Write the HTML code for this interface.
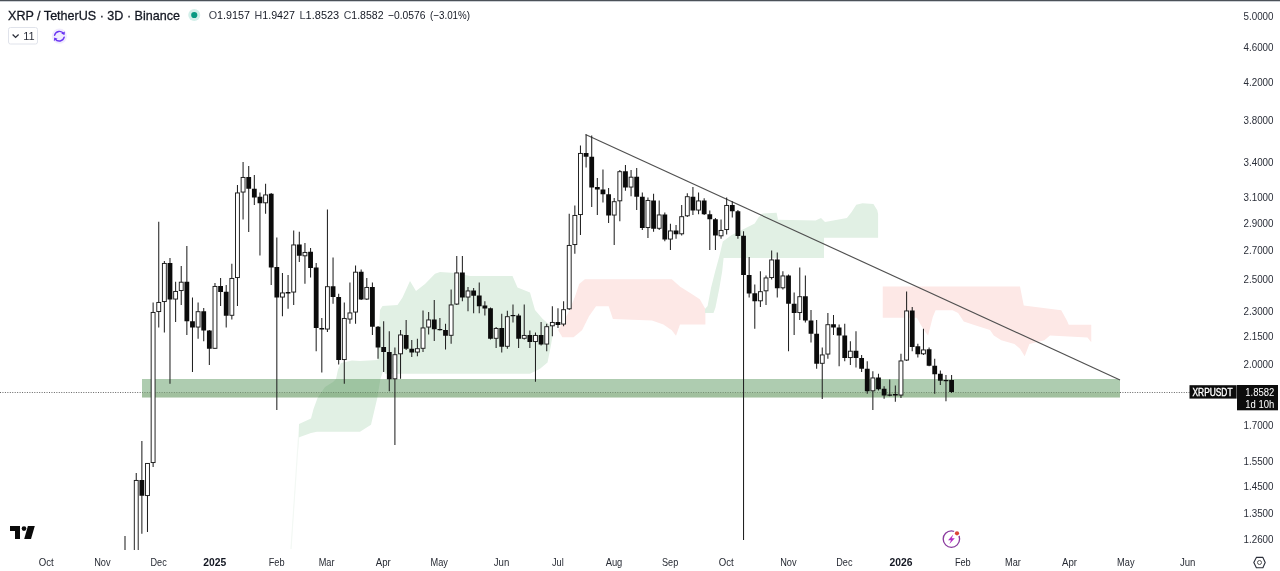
<!DOCTYPE html>
<html lang="en"><head><meta charset="utf-8"><title>XRP / TetherUS 3D Binance</title>
<style>
html,body{margin:0;padding:0;background:#fff;}
body{width:1280px;height:571px;overflow:hidden;position:relative;font-family:"Liberation Sans",sans-serif;}
svg{position:absolute;left:0;top:0;display:block;will-change:transform;}
text{font-family:"Liberation Sans",sans-serif;}
.ax{font-size:10px;fill:#2a2e39;}
.tm{font-size:10.5px;fill:#262a33;}
.tmb{font-size:10.5px;fill:#131722;font-weight:bold;}
</style></head><body>
<svg width="1280" height="571" viewBox="0 0 1280 571">
<rect x="0" y="0" width="1280" height="571" fill="#ffffff"/>
<polygon points="298,450 299,424 311,418.5 313.5,409 317.5,398 325,387 333,382 336,379 338,369.5 341,363 352,360.5 360,361 377.5,360 380,310 382.5,306 397.5,305 402.5,297.5 410,281 416,291 425,284 435,273.75 440,272 455,273 470,276 512.5,276 517.5,287.5 530,292.5 535,310 542.5,318.75 551,326 553,333 551,345 547.5,362.5 540,368.75 530,373.75 385,373.75 383.6,369.5 380.4,379 377.3,398 374,412 371,424.7 360,431.8 317,431.8 311,433 299.2,437.3" fill="#e1f0e4"/>
<path d="M298.5 437 L291 549" stroke="#f3f8f4" stroke-width="1.2" fill="none"/>
<polygon points="558.2,330.2 568,313.4 575,296.5 579.2,283.9 584.9,279.2 671.8,279.2 680.2,286.7 691.4,293.7 699.8,299.3 705.4,309.1 705.4,324.6 680,324.6 676,335.8 671.8,330.2 663.4,324.6 652,320.4 612.9,319 608.7,306.3 596,306.3 589,316.2 582,330.2 573.6,337.2 562.4,337.2" fill="#fde8e6"/>
<polygon points="705,309 707.6,306 711,288 715.2,271.3 719.4,256 722.8,241.6 731.25,235.3 746.9,227.5 754.7,223.6 758.6,217.3 762.5,213.4 776.6,212.7 778,219.7 815.6,220.5 821,218.1 825,222 846.9,218.1 851.6,211.9 856.25,204.8 862.5,203.3 873.4,204 877.3,210.3 878.1,214 878.1,237.7 824,237.7 824,258 723.6,258 722.2,271.3 719.4,288 715.4,307.7 713.5,313 705,313" fill="#e1f0e4"/>
<polygon points="882.75,286.5 1020,286.5 1023.75,305.6 1061.25,310.3 1066.9,320.6 1068.75,324.75 1091.25,324.75 1091.25,342.2 1087.5,337.5 1068.75,336.6 1050,335.6 1044.4,340.3 1029.4,344 1024.7,356.25 1020,348.75 1014.4,344 1001.25,340.3 993.75,335.6 990,330 975,325.3 963.75,321.6 958.1,313.1 952.5,310.3 935.6,310.3 932.8,316.9 928.1,335.6 925.3,331.9 920.6,324.4 916.9,317.8 882.75,317.8" fill="#fde8e6"/>
<rect x="142" y="379" width="978" height="18.5" fill="#4f8f52" fill-opacity="0.46"/>
<rect x="142" y="392.5" width="978" height="5" fill="#5a7f3a" fill-opacity="0.15"/>
<line x1="0" y1="392.5" x2="142" y2="392.5" stroke="#4a4a4a" stroke-width="1" stroke-dasharray="1 1.45" stroke-opacity="0.85"/>
<line x1="142" y1="392.5" x2="1120" y2="392.5" stroke="#33452f" stroke-width="1" stroke-dasharray="1 1.45" stroke-opacity="0.42"/>
<line x1="1120" y1="392.5" x2="1190" y2="392.5" stroke="#4a4a4a" stroke-width="1" stroke-dasharray="1 1.45" stroke-opacity="0.85"/>
<line x1="585.5" y1="134.5" x2="1120" y2="380" stroke="#505050" stroke-width="1.15"/>
<g shape-rendering="auto">
<line x1="125" y1="536" x2="125" y2="550" stroke="#222" stroke-width="1.05"/>
<line x1="136.25" y1="473" x2="136.25" y2="550" stroke="#222" stroke-width="1.05"/>
<rect x="134.3" y="480.45" width="3.9" height="71.1" fill="#fff" stroke="#1c1c1c" stroke-width="0.95"/>
<line x1="141.87" y1="441" x2="141.87" y2="533.75" stroke="#222" stroke-width="1.05"/>
<rect x="139.47" y="480" width="4.8" height="15.75" fill="#0b0b0b"/>
<line x1="147.49" y1="463" x2="147.49" y2="532" stroke="#222" stroke-width="1.05"/>
<rect x="145.54" y="463.45" width="3.9" height="32.1" fill="#fff" stroke="#1c1c1c" stroke-width="0.95"/>
<line x1="153.12" y1="302.5" x2="153.12" y2="467" stroke="#222" stroke-width="1.05"/>
<rect x="151.16" y="312.45" width="3.9" height="150.1" fill="#fff" stroke="#1c1c1c" stroke-width="0.95"/>
<line x1="158.74" y1="221.75" x2="158.74" y2="327.5" stroke="#222" stroke-width="1.05"/>
<rect x="156.79" y="302.45" width="3.9" height="9.1" fill="#fff" stroke="#1c1c1c" stroke-width="0.95"/>
<line x1="164.36" y1="261" x2="164.36" y2="332.5" stroke="#222" stroke-width="1.05"/>
<rect x="162.41" y="263.45" width="3.9" height="38.1" fill="#fff" stroke="#1c1c1c" stroke-width="0.95"/>
<line x1="169.98" y1="258" x2="169.98" y2="383.75" stroke="#222" stroke-width="1.05"/>
<rect x="167.58" y="263" width="4.8" height="36.5" fill="#0b0b0b"/>
<line x1="175.61" y1="281.75" x2="175.61" y2="322" stroke="#222" stroke-width="1.05"/>
<rect x="173.66" y="291.45" width="3.9" height="7.6" fill="#fff" stroke="#1c1c1c" stroke-width="0.95"/>
<line x1="181.23" y1="266" x2="181.23" y2="305" stroke="#222" stroke-width="1.05"/>
<rect x="179.28" y="282.2" width="3.9" height="8.35" fill="#fff" stroke="#1c1c1c" stroke-width="0.95"/>
<line x1="186.85" y1="246" x2="186.85" y2="335" stroke="#222" stroke-width="1.05"/>
<rect x="184.45" y="281.75" width="4.8" height="39.5" fill="#0b0b0b"/>
<line x1="192.48" y1="297.5" x2="192.48" y2="372" stroke="#222" stroke-width="1.05"/>
<rect x="190.08" y="321.25" width="4.8" height="6.25" fill="#0b0b0b"/>
<line x1="198.1" y1="302.5" x2="198.1" y2="338.75" stroke="#222" stroke-width="1.05"/>
<rect x="196.15" y="311.7" width="3.9" height="15.35" fill="#fff" stroke="#1c1c1c" stroke-width="0.95"/>
<line x1="203.72" y1="308" x2="203.72" y2="341.25" stroke="#222" stroke-width="1.05"/>
<rect x="201.32" y="311.25" width="4.8" height="19.25" fill="#0b0b0b"/>
<line x1="209.34" y1="330" x2="209.34" y2="365" stroke="#222" stroke-width="1.05"/>
<rect x="206.94" y="330.5" width="4.8" height="18.25" fill="#0b0b0b"/>
<line x1="214.97" y1="283" x2="214.97" y2="349" stroke="#222" stroke-width="1.05"/>
<rect x="213.02" y="286.45" width="3.9" height="61.85" fill="#fff" stroke="#1c1c1c" stroke-width="0.95"/>
<line x1="220.59" y1="278" x2="220.59" y2="306" stroke="#222" stroke-width="1.05"/>
<rect x="218.19" y="286" width="4.8" height="6" fill="#0b0b0b"/>
<line x1="226.21" y1="285" x2="226.21" y2="327.5" stroke="#222" stroke-width="1.05"/>
<rect x="223.81" y="291.75" width="4.8" height="24" fill="#0b0b0b"/>
<line x1="231.84" y1="263.75" x2="231.84" y2="319.5" stroke="#222" stroke-width="1.05"/>
<rect x="229.89" y="278.45" width="3.9" height="36.85" fill="#fff" stroke="#1c1c1c" stroke-width="0.95"/>
<line x1="237.46" y1="185" x2="237.46" y2="306" stroke="#222" stroke-width="1.05"/>
<rect x="235.51" y="192.95" width="3.9" height="84.6" fill="#fff" stroke="#1c1c1c" stroke-width="0.95"/>
<line x1="243.08" y1="162" x2="243.08" y2="219.5" stroke="#222" stroke-width="1.05"/>
<rect x="241.13" y="177.45" width="3.9" height="14.6" fill="#fff" stroke="#1c1c1c" stroke-width="0.95"/>
<line x1="248.71" y1="166" x2="248.71" y2="232" stroke="#222" stroke-width="1.05"/>
<rect x="246.31" y="177" width="4.8" height="11.75" fill="#0b0b0b"/>
<line x1="254.33" y1="175" x2="254.33" y2="205" stroke="#222" stroke-width="1.05"/>
<rect x="251.93" y="188.75" width="4.8" height="8.75" fill="#0b0b0b"/>
<line x1="259.95" y1="192.5" x2="259.95" y2="255.5" stroke="#222" stroke-width="1.05"/>
<rect x="257.55" y="196.75" width="4.8" height="6.5" fill="#0b0b0b"/>
<line x1="265.58" y1="183.75" x2="265.58" y2="213.75" stroke="#222" stroke-width="1.05"/>
<rect x="263.63" y="194.95" width="3.9" height="7.85" fill="#fff" stroke="#1c1c1c" stroke-width="0.95"/>
<line x1="271.2" y1="193" x2="271.2" y2="285" stroke="#222" stroke-width="1.05"/>
<rect x="268.8" y="193.75" width="4.8" height="73.75" fill="#0b0b0b"/>
<line x1="276.82" y1="237.5" x2="276.82" y2="410" stroke="#222" stroke-width="1.05"/>
<rect x="274.42" y="267" width="4.8" height="30.5" fill="#0b0b0b"/>
<line x1="282.44" y1="273" x2="282.44" y2="316.25" stroke="#222" stroke-width="1.05"/>
<rect x="280.49" y="292.95" width="3.9" height="4.1" fill="#fff" stroke="#1c1c1c" stroke-width="0.95"/>
<line x1="288.07" y1="275" x2="288.07" y2="308.75" stroke="#222" stroke-width="1.05"/>
<rect x="285.67" y="292" width="4.8" height="1.5" fill="#0b0b0b"/>
<line x1="293.69" y1="230.5" x2="293.69" y2="305" stroke="#222" stroke-width="1.05"/>
<rect x="291.74" y="244.95" width="3.9" height="47.1" fill="#fff" stroke="#1c1c1c" stroke-width="0.95"/>
<line x1="299.31" y1="231.75" x2="299.31" y2="262" stroke="#222" stroke-width="1.05"/>
<rect x="296.91" y="244.5" width="4.8" height="11.25" fill="#0b0b0b"/>
<line x1="304.94" y1="243" x2="304.94" y2="283.75" stroke="#222" stroke-width="1.05"/>
<rect x="302.99" y="252.45" width="3.9" height="3.35" fill="#fff" stroke="#1c1c1c" stroke-width="0.95"/>
<line x1="310.56" y1="248" x2="310.56" y2="277.5" stroke="#222" stroke-width="1.05"/>
<rect x="308.16" y="251.75" width="4.8" height="16.25" fill="#0b0b0b"/>
<line x1="316.18" y1="263" x2="316.18" y2="351.25" stroke="#222" stroke-width="1.05"/>
<rect x="313.78" y="267.5" width="4.8" height="60.5" fill="#0b0b0b"/>
<line x1="321.81" y1="318" x2="321.81" y2="372.5" stroke="#222" stroke-width="1.05"/>
<rect x="319.41" y="328" width="4.8" height="1.5" fill="#0b0b0b"/>
<line x1="327.43" y1="209.5" x2="327.43" y2="332" stroke="#222" stroke-width="1.05"/>
<rect x="325.48" y="286.7" width="3.9" height="42.35" fill="#fff" stroke="#1c1c1c" stroke-width="0.95"/>
<line x1="333.05" y1="257.5" x2="333.05" y2="303.75" stroke="#222" stroke-width="1.05"/>
<rect x="330.65" y="286.25" width="4.8" height="10.75" fill="#0b0b0b"/>
<line x1="338.67" y1="293.75" x2="338.67" y2="364.5" stroke="#222" stroke-width="1.05"/>
<rect x="336.27" y="297" width="4.8" height="63" fill="#0b0b0b"/>
<line x1="344.3" y1="302.5" x2="344.3" y2="383.75" stroke="#222" stroke-width="1.05"/>
<rect x="342.35" y="318.45" width="3.9" height="41.1" fill="#fff" stroke="#1c1c1c" stroke-width="0.95"/>
<line x1="349.92" y1="282.5" x2="349.92" y2="323.75" stroke="#222" stroke-width="1.05"/>
<rect x="347.97" y="312.95" width="3.9" height="6.1" fill="#fff" stroke="#1c1c1c" stroke-width="0.95"/>
<line x1="355.54" y1="265.5" x2="355.54" y2="323.75" stroke="#222" stroke-width="1.05"/>
<rect x="353.59" y="272.2" width="3.9" height="39.85" fill="#fff" stroke="#1c1c1c" stroke-width="0.95"/>
<line x1="361.17" y1="269.5" x2="361.17" y2="300" stroke="#222" stroke-width="1.05"/>
<rect x="358.77" y="271.75" width="4.8" height="27.75" fill="#0b0b0b"/>
<line x1="366.79" y1="278" x2="366.79" y2="300" stroke="#222" stroke-width="1.05"/>
<rect x="364.84" y="287.45" width="3.9" height="11.6" fill="#fff" stroke="#1c1c1c" stroke-width="0.95"/>
<line x1="372.41" y1="282.5" x2="372.41" y2="335" stroke="#222" stroke-width="1.05"/>
<rect x="370.01" y="287" width="4.8" height="39.75" fill="#0b0b0b"/>
<line x1="378.03" y1="326" x2="378.03" y2="358.75" stroke="#222" stroke-width="1.05"/>
<rect x="375.63" y="326.75" width="4.8" height="20.75" fill="#0b0b0b"/>
<line x1="383.66" y1="321.25" x2="383.66" y2="372" stroke="#222" stroke-width="1.05"/>
<rect x="381.26" y="347" width="4.8" height="5" fill="#0b0b0b"/>
<line x1="389.28" y1="331.25" x2="389.28" y2="391.25" stroke="#222" stroke-width="1.05"/>
<rect x="386.88" y="352" width="4.8" height="27.25" fill="#0b0b0b"/>
<line x1="394.9" y1="347.5" x2="394.9" y2="445" stroke="#222" stroke-width="1.05"/>
<rect x="392.95" y="354.7" width="3.9" height="24.1" fill="#fff" stroke="#1c1c1c" stroke-width="0.95"/>
<line x1="400.53" y1="330" x2="400.53" y2="378.75" stroke="#222" stroke-width="1.05"/>
<rect x="398.58" y="334.95" width="3.9" height="18.85" fill="#fff" stroke="#1c1c1c" stroke-width="0.95"/>
<line x1="406.15" y1="320" x2="406.15" y2="350" stroke="#222" stroke-width="1.05"/>
<rect x="403.75" y="335" width="4.8" height="13.75" fill="#0b0b0b"/>
<line x1="411.77" y1="340" x2="411.77" y2="357" stroke="#222" stroke-width="1.05"/>
<rect x="409.37" y="348.75" width="4.8" height="3.75" fill="#0b0b0b"/>
<line x1="417.4" y1="338.75" x2="417.4" y2="356.25" stroke="#222" stroke-width="1.05"/>
<rect x="415.45" y="348.7" width="3.9" height="3.35" fill="#fff" stroke="#1c1c1c" stroke-width="0.95"/>
<line x1="423.02" y1="310.5" x2="423.02" y2="352" stroke="#222" stroke-width="1.05"/>
<rect x="421.07" y="327.95" width="3.9" height="20.35" fill="#fff" stroke="#1c1c1c" stroke-width="0.95"/>
<line x1="428.64" y1="312" x2="428.64" y2="334.5" stroke="#222" stroke-width="1.05"/>
<rect x="426.69" y="319.95" width="3.9" height="7.1" fill="#fff" stroke="#1c1c1c" stroke-width="0.95"/>
<line x1="434.26" y1="300" x2="434.26" y2="341" stroke="#222" stroke-width="1.05"/>
<rect x="431.87" y="319.5" width="4.8" height="9.75" fill="#0b0b0b"/>
<line x1="439.89" y1="318" x2="439.89" y2="330.5" stroke="#222" stroke-width="1.05"/>
<rect x="437.49" y="329" width="4.8" height="1.2" fill="#0b0b0b"/>
<line x1="445.51" y1="323.75" x2="445.51" y2="349.5" stroke="#222" stroke-width="1.05"/>
<rect x="443.11" y="330" width="4.8" height="5.75" fill="#0b0b0b"/>
<line x1="451.13" y1="289.5" x2="451.13" y2="343.75" stroke="#222" stroke-width="1.05"/>
<rect x="449.18" y="304.95" width="3.9" height="30.35" fill="#fff" stroke="#1c1c1c" stroke-width="0.95"/>
<line x1="456.76" y1="256" x2="456.76" y2="305" stroke="#222" stroke-width="1.05"/>
<rect x="454.81" y="272.95" width="3.9" height="31.1" fill="#fff" stroke="#1c1c1c" stroke-width="0.95"/>
<line x1="462.38" y1="256" x2="462.38" y2="301.25" stroke="#222" stroke-width="1.05"/>
<rect x="459.98" y="272.5" width="4.8" height="25" fill="#0b0b0b"/>
<line x1="468" y1="287" x2="468" y2="311.25" stroke="#222" stroke-width="1.05"/>
<rect x="466.05" y="290.95" width="3.9" height="6.1" fill="#fff" stroke="#1c1c1c" stroke-width="0.95"/>
<line x1="473.63" y1="288" x2="473.63" y2="313.25" stroke="#222" stroke-width="1.05"/>
<rect x="471.23" y="290.5" width="4.8" height="5.25" fill="#0b0b0b"/>
<line x1="479.25" y1="282.5" x2="479.25" y2="313.25" stroke="#222" stroke-width="1.05"/>
<rect x="476.85" y="295.5" width="4.8" height="10.75" fill="#0b0b0b"/>
<line x1="484.87" y1="301.25" x2="484.87" y2="315.5" stroke="#222" stroke-width="1.05"/>
<rect x="482.47" y="305.5" width="4.8" height="3" fill="#0b0b0b"/>
<line x1="490.5" y1="307.5" x2="490.5" y2="339.5" stroke="#222" stroke-width="1.05"/>
<rect x="488.1" y="308.25" width="4.8" height="30.5" fill="#0b0b0b"/>
<line x1="496.12" y1="327" x2="496.12" y2="348" stroke="#222" stroke-width="1.05"/>
<rect x="494.17" y="328.45" width="3.9" height="9.85" fill="#fff" stroke="#1c1c1c" stroke-width="0.95"/>
<line x1="501.74" y1="313.75" x2="501.74" y2="352.5" stroke="#222" stroke-width="1.05"/>
<rect x="499.34" y="328" width="4.8" height="18.75" fill="#0b0b0b"/>
<line x1="507.36" y1="310.75" x2="507.36" y2="348.75" stroke="#222" stroke-width="1.05"/>
<rect x="505.41" y="316.7" width="3.9" height="29.6" fill="#fff" stroke="#1c1c1c" stroke-width="0.95"/>
<line x1="512.99" y1="304.5" x2="512.99" y2="322.5" stroke="#222" stroke-width="1.05"/>
<rect x="510.59" y="315" width="4.8" height="1.2" fill="#0b0b0b"/>
<line x1="518.61" y1="313.75" x2="518.61" y2="348" stroke="#222" stroke-width="1.05"/>
<rect x="516.21" y="315.5" width="4.8" height="23.25" fill="#0b0b0b"/>
<line x1="524.23" y1="304.5" x2="524.23" y2="339.5" stroke="#222" stroke-width="1.05"/>
<rect x="522.28" y="335.45" width="3.9" height="2.85" fill="#fff" stroke="#1c1c1c" stroke-width="0.95"/>
<line x1="529.86" y1="330.5" x2="529.86" y2="348" stroke="#222" stroke-width="1.05"/>
<rect x="527.46" y="335" width="4.8" height="7" fill="#0b0b0b"/>
<line x1="535.48" y1="332.5" x2="535.48" y2="381.75" stroke="#222" stroke-width="1.05"/>
<rect x="533.53" y="335.45" width="3.9" height="6.1" fill="#fff" stroke="#1c1c1c" stroke-width="0.95"/>
<line x1="541.1" y1="322" x2="541.1" y2="345.5" stroke="#222" stroke-width="1.05"/>
<rect x="538.7" y="335" width="4.8" height="9.5" fill="#0b0b0b"/>
<line x1="546.73" y1="323.75" x2="546.73" y2="351.25" stroke="#222" stroke-width="1.05"/>
<rect x="544.78" y="326.7" width="3.9" height="17.35" fill="#fff" stroke="#1c1c1c" stroke-width="0.95"/>
<line x1="552.35" y1="306.25" x2="552.35" y2="336.25" stroke="#222" stroke-width="1.05"/>
<rect x="550.4" y="322.45" width="3.9" height="3.35" fill="#fff" stroke="#1c1c1c" stroke-width="0.95"/>
<line x1="557.97" y1="308.25" x2="557.97" y2="328" stroke="#222" stroke-width="1.05"/>
<rect x="555.57" y="322" width="4.8" height="3" fill="#0b0b0b"/>
<line x1="563.59" y1="301.25" x2="563.59" y2="326.25" stroke="#222" stroke-width="1.05"/>
<rect x="561.64" y="309.7" width="3.9" height="14.35" fill="#fff" stroke="#1c1c1c" stroke-width="0.95"/>
<line x1="569.22" y1="213.75" x2="569.22" y2="310" stroke="#222" stroke-width="1.05"/>
<rect x="567.27" y="245.45" width="3.9" height="63.35" fill="#fff" stroke="#1c1c1c" stroke-width="0.95"/>
<line x1="574.84" y1="205.5" x2="574.84" y2="253.75" stroke="#222" stroke-width="1.05"/>
<rect x="572.89" y="215.45" width="3.9" height="29.1" fill="#fff" stroke="#1c1c1c" stroke-width="0.95"/>
<line x1="580.46" y1="145.5" x2="580.46" y2="235" stroke="#222" stroke-width="1.05"/>
<rect x="578.51" y="153.45" width="3.9" height="61.1" fill="#fff" stroke="#1c1c1c" stroke-width="0.95"/>
<line x1="586.09" y1="134.5" x2="586.09" y2="167.5" stroke="#222" stroke-width="1.05"/>
<rect x="583.69" y="153" width="4.8" height="3.75" fill="#0b0b0b"/>
<line x1="591.71" y1="135.5" x2="591.71" y2="207" stroke="#222" stroke-width="1.05"/>
<rect x="589.31" y="156.75" width="4.8" height="30.75" fill="#0b0b0b"/>
<line x1="597.33" y1="178" x2="597.33" y2="215" stroke="#222" stroke-width="1.05"/>
<rect x="594.93" y="187" width="4.8" height="2.5" fill="#0b0b0b"/>
<line x1="602.96" y1="169.5" x2="602.96" y2="202.5" stroke="#222" stroke-width="1.05"/>
<rect x="600.56" y="189.5" width="4.8" height="4.75" fill="#0b0b0b"/>
<line x1="608.58" y1="188" x2="608.58" y2="223" stroke="#222" stroke-width="1.05"/>
<rect x="606.18" y="194.25" width="4.8" height="21.25" fill="#0b0b0b"/>
<line x1="614.2" y1="198" x2="614.2" y2="245" stroke="#222" stroke-width="1.05"/>
<rect x="612.25" y="201.7" width="3.9" height="13.35" fill="#fff" stroke="#1c1c1c" stroke-width="0.95"/>
<line x1="619.82" y1="170" x2="619.82" y2="221.25" stroke="#222" stroke-width="1.05"/>
<rect x="617.87" y="171.7" width="3.9" height="29.1" fill="#fff" stroke="#1c1c1c" stroke-width="0.95"/>
<line x1="625.45" y1="165" x2="625.45" y2="190.75" stroke="#222" stroke-width="1.05"/>
<rect x="623.05" y="171.25" width="4.8" height="16.25" fill="#0b0b0b"/>
<line x1="631.07" y1="170" x2="631.07" y2="196.25" stroke="#222" stroke-width="1.05"/>
<rect x="629.12" y="177.2" width="3.9" height="9.85" fill="#fff" stroke="#1c1c1c" stroke-width="0.95"/>
<line x1="636.69" y1="168" x2="636.69" y2="210" stroke="#222" stroke-width="1.05"/>
<rect x="634.29" y="176.75" width="4.8" height="20" fill="#0b0b0b"/>
<line x1="642.32" y1="192.5" x2="642.32" y2="230" stroke="#222" stroke-width="1.05"/>
<rect x="639.92" y="196.75" width="4.8" height="31.25" fill="#0b0b0b"/>
<line x1="647.94" y1="197.5" x2="647.94" y2="238" stroke="#222" stroke-width="1.05"/>
<rect x="645.99" y="200.45" width="3.9" height="27.1" fill="#fff" stroke="#1c1c1c" stroke-width="0.95"/>
<line x1="653.56" y1="193.75" x2="653.56" y2="231.75" stroke="#222" stroke-width="1.05"/>
<rect x="651.16" y="200.5" width="4.8" height="28.25" fill="#0b0b0b"/>
<line x1="659.19" y1="200.5" x2="659.19" y2="230" stroke="#222" stroke-width="1.05"/>
<rect x="657.24" y="214.95" width="3.9" height="13.35" fill="#fff" stroke="#1c1c1c" stroke-width="0.95"/>
<line x1="664.81" y1="212.5" x2="664.81" y2="241.25" stroke="#222" stroke-width="1.05"/>
<rect x="662.41" y="214.5" width="4.8" height="25" fill="#0b0b0b"/>
<line x1="670.43" y1="223.75" x2="670.43" y2="250" stroke="#222" stroke-width="1.05"/>
<rect x="668.48" y="230.95" width="3.9" height="8.1" fill="#fff" stroke="#1c1c1c" stroke-width="0.95"/>
<line x1="676.05" y1="225" x2="676.05" y2="238.75" stroke="#222" stroke-width="1.05"/>
<rect x="673.65" y="230.5" width="4.8" height="3.75" fill="#0b0b0b"/>
<line x1="681.68" y1="205" x2="681.68" y2="235.5" stroke="#222" stroke-width="1.05"/>
<rect x="679.73" y="216.7" width="3.9" height="17.1" fill="#fff" stroke="#1c1c1c" stroke-width="0.95"/>
<line x1="687.3" y1="193.25" x2="687.3" y2="217" stroke="#222" stroke-width="1.05"/>
<rect x="685.35" y="196.7" width="3.9" height="19.1" fill="#fff" stroke="#1c1c1c" stroke-width="0.95"/>
<line x1="692.92" y1="187" x2="692.92" y2="215" stroke="#222" stroke-width="1.05"/>
<rect x="690.52" y="196.75" width="4.8" height="13.75" fill="#0b0b0b"/>
<line x1="698.55" y1="192.5" x2="698.55" y2="214.25" stroke="#222" stroke-width="1.05"/>
<rect x="696.6" y="200.95" width="3.9" height="9.1" fill="#fff" stroke="#1c1c1c" stroke-width="0.95"/>
<line x1="704.17" y1="198.25" x2="704.17" y2="215" stroke="#222" stroke-width="1.05"/>
<rect x="701.77" y="200.5" width="4.8" height="13.75" fill="#0b0b0b"/>
<line x1="709.79" y1="210.5" x2="709.79" y2="250" stroke="#222" stroke-width="1.05"/>
<rect x="707.39" y="214.25" width="4.8" height="5" fill="#0b0b0b"/>
<line x1="715.42" y1="218" x2="715.42" y2="250" stroke="#222" stroke-width="1.05"/>
<rect x="713.02" y="219.25" width="4.8" height="16.25" fill="#0b0b0b"/>
<line x1="721.04" y1="219.5" x2="721.04" y2="238.75" stroke="#222" stroke-width="1.05"/>
<rect x="719.09" y="230.45" width="3.9" height="5.35" fill="#fff" stroke="#1c1c1c" stroke-width="0.95"/>
<line x1="726.66" y1="197.5" x2="726.66" y2="234.5" stroke="#222" stroke-width="1.05"/>
<rect x="724.71" y="205.45" width="3.9" height="24.1" fill="#fff" stroke="#1c1c1c" stroke-width="0.95"/>
<line x1="732.28" y1="201.25" x2="732.28" y2="217.5" stroke="#222" stroke-width="1.05"/>
<rect x="729.88" y="205" width="4.8" height="6.25" fill="#0b0b0b"/>
<line x1="737.91" y1="210" x2="737.91" y2="238.75" stroke="#222" stroke-width="1.05"/>
<rect x="735.51" y="211.25" width="4.8" height="24.75" fill="#0b0b0b"/>
<line x1="743.53" y1="231.25" x2="743.53" y2="540" stroke="#222" stroke-width="1.05"/>
<rect x="741.13" y="235.75" width="4.8" height="39.25" fill="#0b0b0b"/>
<line x1="749.15" y1="257" x2="749.15" y2="297.5" stroke="#222" stroke-width="1.05"/>
<rect x="746.75" y="275" width="4.8" height="18.5" fill="#0b0b0b"/>
<line x1="754.78" y1="284.5" x2="754.78" y2="328.75" stroke="#222" stroke-width="1.05"/>
<rect x="752.38" y="293.25" width="4.8" height="8" fill="#0b0b0b"/>
<line x1="760.4" y1="271.25" x2="760.4" y2="307" stroke="#222" stroke-width="1.05"/>
<rect x="758.45" y="291.7" width="3.9" height="9.1" fill="#fff" stroke="#1c1c1c" stroke-width="0.95"/>
<line x1="766.02" y1="275.5" x2="766.02" y2="305" stroke="#222" stroke-width="1.05"/>
<rect x="764.07" y="277.95" width="3.9" height="12.85" fill="#fff" stroke="#1c1c1c" stroke-width="0.95"/>
<line x1="771.64" y1="250.5" x2="771.64" y2="279.5" stroke="#222" stroke-width="1.05"/>
<rect x="769.7" y="259.95" width="3.9" height="17.6" fill="#fff" stroke="#1c1c1c" stroke-width="0.95"/>
<line x1="777.27" y1="252.5" x2="777.27" y2="297.5" stroke="#222" stroke-width="1.05"/>
<rect x="774.87" y="259.5" width="4.8" height="28.75" fill="#0b0b0b"/>
<line x1="782.89" y1="271.25" x2="782.89" y2="289.5" stroke="#222" stroke-width="1.05"/>
<rect x="780.94" y="275.95" width="3.9" height="11.85" fill="#fff" stroke="#1c1c1c" stroke-width="0.95"/>
<line x1="788.51" y1="274.5" x2="788.51" y2="351.25" stroke="#222" stroke-width="1.05"/>
<rect x="786.11" y="275.5" width="4.8" height="28.25" fill="#0b0b0b"/>
<line x1="794.14" y1="292.5" x2="794.14" y2="335" stroke="#222" stroke-width="1.05"/>
<rect x="791.74" y="303.75" width="4.8" height="9.25" fill="#0b0b0b"/>
<line x1="799.76" y1="267.5" x2="799.76" y2="320" stroke="#222" stroke-width="1.05"/>
<rect x="797.81" y="296.7" width="3.9" height="15.85" fill="#fff" stroke="#1c1c1c" stroke-width="0.95"/>
<line x1="805.38" y1="275.5" x2="805.38" y2="322.5" stroke="#222" stroke-width="1.05"/>
<rect x="802.98" y="296.25" width="4.8" height="24.25" fill="#0b0b0b"/>
<line x1="811.01" y1="310" x2="811.01" y2="342.5" stroke="#222" stroke-width="1.05"/>
<rect x="808.61" y="320.5" width="4.8" height="13.25" fill="#0b0b0b"/>
<line x1="816.63" y1="320" x2="816.63" y2="368.75" stroke="#222" stroke-width="1.05"/>
<rect x="814.23" y="333.75" width="4.8" height="30" fill="#0b0b0b"/>
<line x1="822.25" y1="347.5" x2="822.25" y2="399" stroke="#222" stroke-width="1.05"/>
<rect x="820.3" y="354.95" width="3.9" height="8.35" fill="#fff" stroke="#1c1c1c" stroke-width="0.95"/>
<line x1="827.88" y1="313" x2="827.88" y2="358.75" stroke="#222" stroke-width="1.05"/>
<rect x="825.93" y="324.7" width="3.9" height="29.35" fill="#fff" stroke="#1c1c1c" stroke-width="0.95"/>
<line x1="833.5" y1="315" x2="833.5" y2="335" stroke="#222" stroke-width="1.05"/>
<rect x="831.1" y="324.25" width="4.8" height="3.25" fill="#0b0b0b"/>
<line x1="839.12" y1="324.5" x2="839.12" y2="366.25" stroke="#222" stroke-width="1.05"/>
<rect x="836.72" y="327.5" width="4.8" height="8" fill="#0b0b0b"/>
<line x1="844.74" y1="323.75" x2="844.74" y2="361.25" stroke="#222" stroke-width="1.05"/>
<rect x="842.34" y="335.5" width="4.8" height="22.5" fill="#0b0b0b"/>
<line x1="850.37" y1="341.25" x2="850.37" y2="365" stroke="#222" stroke-width="1.05"/>
<rect x="848.42" y="351.2" width="3.9" height="6.35" fill="#fff" stroke="#1c1c1c" stroke-width="0.95"/>
<line x1="855.99" y1="331.25" x2="855.99" y2="367.5" stroke="#222" stroke-width="1.05"/>
<rect x="853.59" y="350.75" width="4.8" height="7.25" fill="#0b0b0b"/>
<line x1="861.61" y1="355" x2="861.61" y2="372" stroke="#222" stroke-width="1.05"/>
<rect x="859.21" y="358" width="4.8" height="10.75" fill="#0b0b0b"/>
<line x1="867.24" y1="361.25" x2="867.24" y2="393.75" stroke="#222" stroke-width="1.05"/>
<rect x="864.84" y="368.75" width="4.8" height="22.5" fill="#0b0b0b"/>
<line x1="872.86" y1="371.25" x2="872.86" y2="410" stroke="#222" stroke-width="1.05"/>
<rect x="870.91" y="377.95" width="3.9" height="12.85" fill="#fff" stroke="#1c1c1c" stroke-width="0.95"/>
<line x1="878.48" y1="373.75" x2="878.48" y2="390.5" stroke="#222" stroke-width="1.05"/>
<rect x="876.08" y="377.5" width="4.8" height="11.75" fill="#0b0b0b"/>
<line x1="884.11" y1="386.25" x2="884.11" y2="398.75" stroke="#222" stroke-width="1.05"/>
<rect x="881.71" y="388.75" width="4.8" height="6.75" fill="#0b0b0b"/>
<line x1="889.73" y1="379.5" x2="889.73" y2="396.25" stroke="#222" stroke-width="1.05"/>
<rect x="887.33" y="394.5" width="4.8" height="1.2" fill="#0b0b0b"/>
<line x1="895.35" y1="385.5" x2="895.35" y2="401.75" stroke="#222" stroke-width="1.05"/>
<rect x="892.95" y="394" width="4.8" height="1.5" fill="#0b0b0b"/>
<line x1="900.97" y1="353.75" x2="900.97" y2="398" stroke="#222" stroke-width="1.05"/>
<rect x="899.02" y="360.95" width="3.9" height="34.1" fill="#fff" stroke="#1c1c1c" stroke-width="0.95"/>
<line x1="906.6" y1="291.5" x2="906.6" y2="361" stroke="#222" stroke-width="1.05"/>
<rect x="904.65" y="310.95" width="3.9" height="49.1" fill="#fff" stroke="#1c1c1c" stroke-width="0.95"/>
<line x1="912.22" y1="307" x2="912.22" y2="351.25" stroke="#222" stroke-width="1.05"/>
<rect x="909.82" y="310.5" width="4.8" height="36.5" fill="#0b0b0b"/>
<line x1="917.84" y1="343.75" x2="917.84" y2="357.5" stroke="#222" stroke-width="1.05"/>
<rect x="915.44" y="346.25" width="4.8" height="8" fill="#0b0b0b"/>
<line x1="923.47" y1="328.75" x2="923.47" y2="355" stroke="#222" stroke-width="1.05"/>
<rect x="921.52" y="349.95" width="3.9" height="3.85" fill="#fff" stroke="#1c1c1c" stroke-width="0.95"/>
<line x1="929.09" y1="347.5" x2="929.09" y2="366.25" stroke="#222" stroke-width="1.05"/>
<rect x="926.69" y="349.25" width="4.8" height="16.5" fill="#0b0b0b"/>
<line x1="934.71" y1="358.75" x2="934.71" y2="393.75" stroke="#222" stroke-width="1.05"/>
<rect x="932.31" y="365.75" width="4.8" height="8.5" fill="#0b0b0b"/>
<line x1="940.34" y1="370.5" x2="940.34" y2="385" stroke="#222" stroke-width="1.05"/>
<rect x="937.94" y="373.75" width="4.8" height="7" fill="#0b0b0b"/>
<line x1="945.96" y1="375" x2="945.96" y2="401.25" stroke="#222" stroke-width="1.05"/>
<rect x="943.56" y="380" width="4.8" height="1.2" fill="#0b0b0b"/>
<line x1="951.58" y1="375" x2="951.58" y2="393" stroke="#222" stroke-width="1.05"/>
<rect x="949.18" y="380" width="4.8" height="12" fill="#0b0b0b"/>
</g>
<rect x="0" y="550" width="1230" height="21" fill="#fff"/>
<text class="ax" x="1243.5" y="19.7" textLength="30" lengthAdjust="spacingAndGlyphs">5.0000</text>
<text class="ax" x="1243.5" y="51.37" textLength="30" lengthAdjust="spacingAndGlyphs">4.6000</text>
<text class="ax" x="1243.5" y="85.92" textLength="30" lengthAdjust="spacingAndGlyphs">4.2000</text>
<text class="ax" x="1243.5" y="123.93" textLength="30" lengthAdjust="spacingAndGlyphs">3.8000</text>
<text class="ax" x="1243.5" y="166.17" textLength="30" lengthAdjust="spacingAndGlyphs">3.4000</text>
<text class="ax" x="1243.5" y="201.26" textLength="30" lengthAdjust="spacingAndGlyphs">3.1000</text>
<text class="ax" x="1243.5" y="226.59" textLength="30" lengthAdjust="spacingAndGlyphs">2.9000</text>
<text class="ax" x="1243.5" y="253.73" textLength="30" lengthAdjust="spacingAndGlyphs">2.7000</text>
<text class="ax" x="1243.5" y="282.96" textLength="30" lengthAdjust="spacingAndGlyphs">2.5000</text>
<text class="ax" x="1243.5" y="314.63" textLength="30" lengthAdjust="spacingAndGlyphs">2.3000</text>
<text class="ax" x="1243.5" y="340.24" textLength="30" lengthAdjust="spacingAndGlyphs">2.1500</text>
<text class="ax" x="1243.5" y="367.71" textLength="30" lengthAdjust="spacingAndGlyphs">2.0000</text>
<text class="ax" x="1243.5" y="429.43" textLength="30" lengthAdjust="spacingAndGlyphs">1.7000</text>
<text class="ax" x="1243.5" y="464.52" textLength="30" lengthAdjust="spacingAndGlyphs">1.5500</text>
<text class="ax" x="1243.5" y="489.84" textLength="30" lengthAdjust="spacingAndGlyphs">1.4500</text>
<text class="ax" x="1243.5" y="516.98" textLength="30" lengthAdjust="spacingAndGlyphs">1.3500</text>
<text class="ax" x="1243.5" y="543.19" textLength="30" lengthAdjust="spacingAndGlyphs">1.2600</text>
<rect x="1189.5" y="385.2" width="46.5" height="13.4" fill="#0c0c0c"/>
<rect x="1237" y="385" width="41" height="25.3" fill="#0c0c0c"/>
<rect x="1236" y="385.2" width="1" height="13.4" fill="#666"/>
<text x="1192.5" y="395.5" font-size="10" fill="#fff" stroke="#fff" stroke-width="0.35" textLength="40" lengthAdjust="spacingAndGlyphs">XRPUSDT</text>
<text x="1245.3" y="395.6" font-size="10" fill="#fff" textLength="29" lengthAdjust="spacingAndGlyphs">1.8582</text>
<text x="1245.3" y="407.5" font-size="10" fill="#fff" textLength="29" lengthAdjust="spacingAndGlyphs">1d 10h</text>
<text class="tm" x="38.75" y="565.6" textLength="15" lengthAdjust="spacingAndGlyphs">Oct</text>
<text class="tm" x="94.2" y="565.6" textLength="16.4" lengthAdjust="spacingAndGlyphs">Nov</text>
<text class="tm" x="150.5" y="565.6" textLength="16.2" lengthAdjust="spacingAndGlyphs">Dec</text>
<text class="tmb" x="203.25" y="565.6" textLength="23" lengthAdjust="spacingAndGlyphs">2025</text>
<text class="tm" x="268.7" y="565.6" textLength="15.8" lengthAdjust="spacingAndGlyphs">Feb</text>
<text class="tm" x="318.7" y="565.6" textLength="15.8" lengthAdjust="spacingAndGlyphs">Mar</text>
<text class="tm" x="375.75" y="565.6" textLength="15" lengthAdjust="spacingAndGlyphs">Apr</text>
<text class="tm" x="430.55" y="565.6" textLength="17.4" lengthAdjust="spacingAndGlyphs">May</text>
<text class="tm" x="493.75" y="565.6" textLength="15.5" lengthAdjust="spacingAndGlyphs">Jun</text>
<text class="tm" x="552" y="565.6" textLength="11.8" lengthAdjust="spacingAndGlyphs">Jul</text>
<text class="tm" x="605.65" y="565.6" textLength="16.7" lengthAdjust="spacingAndGlyphs">Aug</text>
<text class="tm" x="662" y="565.6" textLength="16.2" lengthAdjust="spacingAndGlyphs">Sep</text>
<text class="tm" x="718.75" y="565.6" textLength="15" lengthAdjust="spacingAndGlyphs">Oct</text>
<text class="tm" x="780.2" y="565.6" textLength="16.4" lengthAdjust="spacingAndGlyphs">Nov</text>
<text class="tm" x="836.3" y="565.6" textLength="16.2" lengthAdjust="spacingAndGlyphs">Dec</text>
<text class="tmb" x="889.5" y="565.6" textLength="23" lengthAdjust="spacingAndGlyphs">2026</text>
<text class="tm" x="954.9" y="565.6" textLength="15.8" lengthAdjust="spacingAndGlyphs">Feb</text>
<text class="tm" x="1005.1" y="565.6" textLength="15.8" lengthAdjust="spacingAndGlyphs">Mar</text>
<text class="tm" x="1062" y="565.6" textLength="15" lengthAdjust="spacingAndGlyphs">Apr</text>
<text class="tm" x="1117.1" y="565.6" textLength="17.4" lengthAdjust="spacingAndGlyphs">May</text>
<text class="tm" x="1179.95" y="565.6" textLength="15.5" lengthAdjust="spacingAndGlyphs">Jun</text>
<rect x="0" y="0" width="1280" height="1.1" fill="#4b5158"/>
<rect x="0" y="1.1" width="1280" height="0.8" fill="#c4c8ce"/>
<text x="8" y="20" font-size="13.4" fill="#131722" stroke="#131722" stroke-width="0.28" textLength="172" lengthAdjust="spacingAndGlyphs">XRP / TetherUS · 3D · Binance</text>
<circle cx="194.25" cy="15" r="6" fill="#d3efe9"/>
<circle cx="194.25" cy="15" r="3.1" fill="#089981"/>
<text x="208.75" y="19.3" font-size="11" fill="#131722" textLength="41.25" lengthAdjust="spacingAndGlyphs"><tspan fill="#3c404b">O</tspan>1.9157</text>
<text x="254.5" y="19.3" font-size="11" fill="#131722" textLength="40.5" lengthAdjust="spacingAndGlyphs"><tspan fill="#3c404b">H</tspan>1.9427</text>
<text x="299.5" y="19.3" font-size="11" fill="#131722" textLength="39.75" lengthAdjust="spacingAndGlyphs"><tspan fill="#3c404b">L</tspan>1.8523</text>
<text x="343.75" y="19.3" font-size="11" fill="#131722" textLength="39.75" lengthAdjust="spacingAndGlyphs"><tspan fill="#3c404b">C</tspan>1.8582</text>
<text x="388" y="19.3" font-size="11" fill="#131722" textLength="37.5" lengthAdjust="spacingAndGlyphs">−0.0576</text>
<text x="430" y="19.3" font-size="11" fill="#131722" textLength="40" lengthAdjust="spacingAndGlyphs">(−3.01%)</text>
<rect x="8.5" y="27.5" width="29" height="16.5" rx="2" fill="#fff" stroke="#e0e3eb" stroke-width="1"/>
<path d="M12.6 34.6 L15.6 37.4 L18.6 34.6" fill="none" stroke="#2a2e39" stroke-width="1.3"/>
<text x="23.3" y="40" font-size="11" fill="#2a2e39">11</text>
<circle cx="59.4" cy="36.2" r="7.6" fill="#f0ebff"/>
<g fill="none" stroke="#6a35f2" stroke-width="1.45" stroke-linecap="round">
<path d="M54.6 35.2 A5 5 0 0 1 63.6 33.6"/>
<path d="M64.2 37.2 A5 5 0 0 1 55.2 38.8"/>
</g>
<path d="M64.9 31.4 L64.5 35 L61.2 33.6 Z" fill="#6a35f2"/>
<path d="M53.9 41 L54.3 37.4 L57.6 38.8 Z" fill="#6a35f2"/>
<g fill="#0a0a0a">
<path d="M10 526 H20 V539 H15 V531 H10 Z"/>
<circle cx="24" cy="528.6" r="2.35"/>
<path d="M27.9 526 H34.8 L31 539 H24.2 Z"/>
</g>
<circle cx="951.4" cy="539.1" r="8.2" fill="#fff" stroke="#8a3a9e" stroke-width="1.3"/>
<path d="M953.3 534.6 L948 540.2 L951 540.2 L949.4 544 L954.8 538.2 L951.8 538.2 Z" fill="#b52fc4"/>
<circle cx="957" cy="533.3" r="3.3" fill="#fff"/>
<circle cx="957" cy="533.3" r="2.1" fill="#dc4437"/>
<path d="M1253.8 562.5 L1256.4 557.4 H1262.9 L1265.2 562.5 L1262.9 567.7 H1256.4 Z" fill="none" stroke="#2a2e39" stroke-width="1.1" stroke-linejoin="round"/>
<circle cx="1259.5" cy="562.5" r="2" fill="none" stroke="#555" stroke-width="1"/>
</svg>
</body></html>
